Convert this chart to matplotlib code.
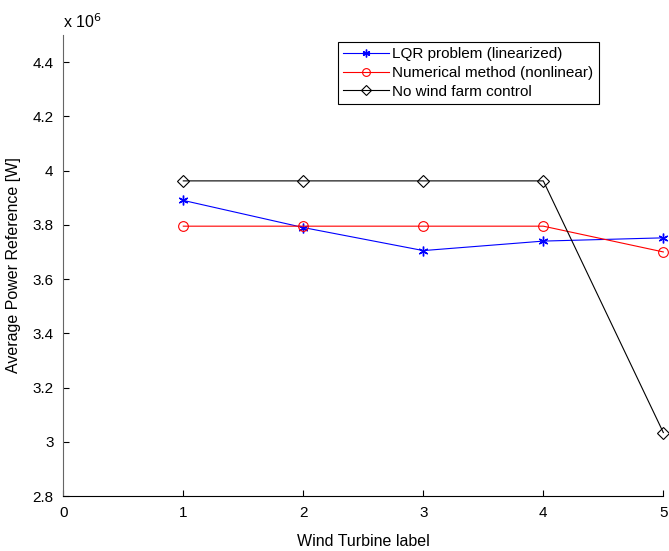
import matplotlib
matplotlib.use("Agg")
import matplotlib.pyplot as plt

plt.rcParams["font.family"] = ["Liberation Sans", "DejaVu Sans"]
plt.rcParams["font.size"] = 11

turbines = [1, 2, 3, 4, 5]
lqr = [3.89e6, 3.79e6, 3.705e6, 3.74e6, 3.752e6]
numerical = [3.795e6, 3.795e6, 3.795e6, 3.795e6, 3.70e6]
no_control = [3.962e6, 3.962e6, 3.962e6, 3.962e6, 3.034e6]

labels = ["LQR problem (linearized)", "Numerical method (nonlinear)", "No wind farm control"]

fig = plt.figure(figsize=(6.69, 5.51), dpi=100)
ax = fig.add_axes([0.0946, 0.0998, 0.8969, 0.8367])

# MATLAB style asterisk for the LQR series
ax.plot(turbines, lqr, color="blue", lw=0.8, marker=(6, 2, 0), ms=7, mew=1.0,
        label=labels[0], clip_on=False)
ax.plot(turbines, numerical, color="red", lw=0.8, marker="o", ms=7, mfc="none", mew=0.8,
        label=labels[1], clip_on=False)
ax.plot(turbines, no_control, color="black", lw=0.8, marker="D", ms=6, mfc="none", mew=0.8,
        label=labels[2], clip_on=False)

ax.set_xlim(0, 5)
ax.set_ylim(2.8e6, 4.5e6)
ax.set_xticks(range(0, 6))
yt = [2.8, 3.0, 3.2, 3.4, 3.6, 3.8, 4.0, 4.2, 4.4]
ax.set_yticks([v * 1e6 for v in yt])
ax.set_yticklabels(["2.8", "3", "3.2", "3.4", "3.6", "3.8", "4", "4.2", "4.4"])
ax.tick_params(direction="in", length=4, width=0.8, pad=7, labelsize=11)
ax.spines["top"].set_visible(False)
ax.spines["right"].set_visible(False)
ax.spines["left"].set_color("#666666")
ax.spines["bottom"].set_color("black")

ax.set_xlabel("Wind Turbine label", fontsize=11.5, labelpad=10)
ax.set_ylabel("Average Power Reference [W]", fontsize=11.5, labelpad=8)
ax.text(0.0, 1.008, r"x 10$^{6}$", transform=ax.transAxes, fontsize=11.5, ha="left", va="bottom")

leg = ax.legend(loc="upper left", bbox_to_anchor=(338 / 669, 1 - 42 / 551),
                bbox_transform=fig.transFigure, fancybox=False, framealpha=1,
                edgecolor="black", handlelength=3.0, borderaxespad=0, fontsize=11,
                labelspacing=0.3, borderpad=0.35, handletextpad=0.2, markerscale=0.8)
leg.get_frame().set_linewidth(0.8)

fig.savefig("out.png", dpi=100)
